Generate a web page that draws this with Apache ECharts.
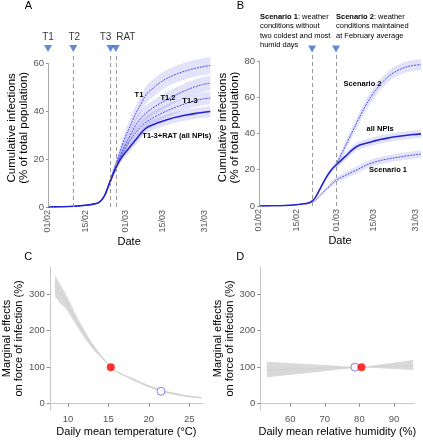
<!DOCTYPE html>
<html><head><meta charset="utf-8">
<script src="https://cdn.jsdelivr.net/npm/echarts@6/dist/echarts.min.js"></script>
<style>html,body{margin:0;padding:0;background:#fff}#c{width:423px;height:440px}</style>
</head><body><div id="c"></div>
<script>
// ---------- DATA ----------
const dateTickDays = [0, 14, 29, 43, 59];
const dateTickLabels = ['01/02', '15/02', '01/03', '15/03', '31/03'];
const days = [0,5,10,14,17,19,21,23,25,27,29,31,33,35,37,40,43,46,49,52,55,58,61];
const allNPIs = [0,0.1,0.3,0.7,1.2,1.8,4.2,9.5,15,19.5,22.6,25.3,28,30.8,33,34.5,35.7,36.8,37.6,38.3,38.9,39.4,39.8];
const t1      = [0,0.1,0.3,0.7,1.2,1.8,4.3,10,16.2,22.8,29,34,39,43,47,50,52.5,54.3,55.7,56.8,57.7,58.4,59];
const t12     = [0,0.1,0.3,0.7,1.2,1.8,4.2,9.8,15.6,21,25.8,30,34.2,37.2,39.3,41.7,43.7,45.5,47.2,48.7,50,51,51.6];
const t13     = [0,0.1,0.3,0.7,1.2,1.8,4.2,9.6,15.3,20.3,24.5,28,31,33.6,35.5,37.5,39.2,40.7,42,43.2,44.2,45,45.4];
const scen1   = [0,0.1,0.3,0.7,1.2,1.8,2.8,5.8,8.8,11.5,14.2,15.8,17.2,18.7,20,22.3,24,25.2,26.1,26.8,27.5,28.1,28.7];
const scen2   = [0,0.1,0.3,0.7,1.2,1.8,4.2,9.5,15,19.5,22.6,28.5,34.5,40.5,46.5,55,62,67.5,71.8,74.6,76.5,77.5,78];
// half-widths of uncertainty bands
const wT1  = [0,0,0,0,0.1,0.2,0.5,1,1.6,2.2,2.7,3,3.3,3.5,3.6,3.6,3.6,3.5,3.5,3.5,3.5,3.5,3.5];
const wT12 = [0,0,0,0,0.1,0.2,0.5,1,1.5,2,2.4,2.7,2.9,3,3.1,3.1,3.1,3.1,3.1,3.1,3.1,3.1,3.1];
const wT13 = [0,0,0,0,0.1,0.2,0.4,0.9,1.4,1.8,2.2,2.4,2.5,2.6,2.6,2.6,2.6,2.6,2.6,2.6,2.6,2.6,2.6];
const wAll = [0,0,0,0,0.1,0.2,0.4,0.8,1.2,1.5,1.8,2,2.1,2.2,2.2,2.2,2.2,2.2,2.2,2.2,2.2,2.2,2.2];
const wS1  = [0,0,0,0,0.1,0.2,0.3,0.6,0.9,1.2,1.5,1.7,1.8,1.9,2,2,2,2,2,2,2.1,2.1,2.1];
const wS2  = [0,0,0,0,0.1,0.2,0.4,0.8,1.2,1.5,1.8,2.1,2.5,2.8,3,3,3,3,3,3,3,3,3];
const interventionNames = ['T1', 'T2', 'T3', 'RAT'];
const interventionDays = [0, 9.5, 23.5, 25.5];
const scenarioDays = [20, 29];

const tempX  = [8.4,9.0,9.7,10.5,11.2,11.8,12.5,13.2,13.8,14.6,15.3,16.0,17.0,17.8,19.0,20.0,21.0,21.6,22.5,23.5,24.5,25.5,26.5];
const tempMid= [323,302,281,250,222,200,175,153,138,117,100,88,77,69,57,48,39.5,35,30,25.5,21.5,18.5,16];
const tempLo = [294,276,261,234,209,188,166,146,133,114,100,86.5,75,66.5,54,45,36.5,32,27,22.8,19,16.3,14];
const tempHi = [352,328,302,266,235,211,184,160,142,120,100,89.5,79,72,60,51,43,38,33,28.3,24,20.8,18.5];
const tempRef = [15.3, 100];
const tempScen = [21.5, 34];

const humX   = [53.2,60,65,70,75,78.7,80.6,85,90,95.6];
const humMid = [93,94.8,96,97.3,98.5,99.5,100,101.2,102.5,104];
const humLo  = [72,79,84,89.2,94.3,98,100,97.7,95,92];
const humHi  = [115,111.3,108.6,105.8,103,101,100,105.9,112.5,120];
const humRef = [80.6, 100];
const humScen = [78.7, 100];

const marginalTicks = [0, 100, 200, 300];
const tempTicks = [10, 15, 20, 25];
const humTicks = [60, 70, 80, 90];

// ---------- BUILD ----------
const FONT = 'Liberation Sans, Arial, sans-serif';
const SM = 0.35;
const BAND = 'rgba(100,100,225,0.19)';
const pts = (xs, ys) => xs.map((x, i) => [x, ys[i]]);
function catmull(P, segs) {
  const out = [];
  for (let i = 0; i < P.length - 1; i++) {
    const p0 = P[Math.max(i - 1, 0)], p1 = P[i], p2 = P[i + 1], p3 = P[Math.min(i + 2, P.length - 1)];
    for (let k = 0; k < segs; k++) {
      const t = k / segs, t2 = t * t, t3 = t2 * t;
      const f = j => 0.5 * (2 * p1[j] + (-p0[j] + p2[j]) * t + (2 * p0[j] - 5 * p1[j] + 4 * p2[j] - p3[j]) * t2 + (-p0[j] + 3 * p1[j] - 3 * p2[j] + p3[j]) * t3);
      out.push([f(0), f(1)]);
    }
  }
  out.push(P[P.length - 1]);
  return out;
}
function band(xs, lo, hi, idx, color) {
  return {type:'custom', xAxisIndex:idx, yAxisIndex:idx, silent:true, z:1, clip:true,
    data:[[xs[0], lo[0]]],
    renderItem:(params, api) => {
      const up = catmull(xs.map((x, i) => api.coord([x, hi[i]])), 10);
      const dn = catmull(xs.map((x, i) => api.coord([x, lo[i]])), 10).reverse();
      return {type:'polygon', shape:{points:up.concat(dn)}, style:{fill:color}};
    }};
}
function vband(xs, v, w, idx) {
  return band(xs, v.map((a, i) => a - w[i]), v.map((a, i) => a + w[i]), idx, BAND);
}
function curve(xs, v, idx, solid, labels) {
  const s = {type:'line', xAxisIndex:idx, yAxisIndex:idx, data:pts(xs, v), symbol:'none', smooth:SM, silent:true,
    lineStyle: solid ? {color:'#2323d2', width:1.6} : {color:'#4d4df0', width:1, type:[2, 1]}, z: solid ? 4 : 3};
  if (labels) {
    s.markPoint = {symbol:'circle', symbolSize:0, silent:true,
      label:{show:true, position:'inside', color:'#000', fontSize:7.5, fontWeight:'bold', fontFamily:FONT, formatter:p => p.name},
      data: labels.map(l => ({name:l[0], coord:[l[1], l[2]]}))};
  }
  return s;
}
const dateFmt = v => { const i = dateTickDays.indexOf(v); return i >= 0 ? dateTickLabels[i] : ''; };
const tickLabel = {fontSize:9.5, color:'#555', fontFamily:FONT};
function dateAxis(idx) {
  return {gridIndex:idx, type:'value', min:0, max:61, splitLine:{show:false},
    axisLine:{show:false}, axisTick:{show:false},
    axisLabel:Object.assign({customValues:dateTickDays, rotate:90, margin:3, formatter:dateFmt}, tickLabel, {fontSize:9}),
    name:'Date', nameLocation:'middle', nameGap:21, nameTextStyle:{fontSize:11, color:'#000', fontFamily:FONT}};
}
function cumAxis(idx, max, ticks) {
  return {gridIndex:idx, type:'value', min:0, max:max, splitLine:{show:false}, axisLine:{show:false},
    axisTick:{show:true, customValues:ticks, length:2, lineStyle:{color:'#999'}},
    axisLabel:Object.assign({customValues:ticks, margin:4}, tickLabel),
    name:'Cumulative infections\n(% of total population)', nameLocation:'middle', nameRotate:90, nameGap:14,
    nameTextStyle:{fontSize:11.5, lineHeight:11.5, color:'#000', fontFamily:FONT}};
}
function margXAxis(idx, min, max, ticks, name) {
  return {gridIndex:idx, type:'value', min:min, max:max, splitLine:{show:false},
    axisLine:{show:true, lineStyle:{color:'#c8c8c8', width:1}},
    axisTick:{show:true, customValues:ticks, length:3, lineStyle:{color:'#888'}},
    axisLabel:Object.assign({customValues:ticks, margin:4}, tickLabel),
    name:name, nameLocation:'middle', nameGap:16, nameTextStyle:{fontSize:11, color:'#000', fontFamily:FONT}};
}
function margYAxis(idx) {
  return {gridIndex:idx, type:'value', min:-17.3, max:374.5, splitLine:{show:false},
    axisLine:{show:true, lineStyle:{color:'#c8c8c8', width:1}},
    axisTick:{show:true, customValues:marginalTicks, length:3, lineStyle:{color:'#888'}},
    axisLabel:Object.assign({customValues:marginalTicks, margin:5}, tickLabel),
    name:'Marginal effects\non force of infection (%)', nameLocation:'middle', nameRotate:90, nameGap:23,
    nameTextStyle:{fontSize:11, lineHeight:12, color:'#000', fontFamily:FONT}};
}
function eventMarks(idx, dayList, names, topVal, lineTop, offsets) {
  return {type:'scatter', xAxisIndex:idx, yAxisIndex:idx, clip:false, silent:true, z:6,
    symbol:'triangle', symbolRotate:180, symbolSize:[8, 7], itemStyle:{color:'#3c6cc6'},
    data: dayList.map((d, i) => ({value:[d, topVal], name: names ? names[i] : '',
      label: names ? {show:true, position:'top', distance:3, offset:offsets[i], formatter:names[i],
        fontSize:10, color:'#000', fontFamily:FONT} : {show:false}})),
    markLine:{symbol:'none', silent:true, label:{show:false},
      data: dayList.filter(d => d > 0).map(d => [{coord:[d, 0], lineStyle:{color:'#9a9a9a', type:[4, 3], width:1}},
                                                 {coord:[d, lineTop]}])}};
}
function axisLineMark(idx, top) {
  return {type:'line', xAxisIndex:idx, yAxisIndex:idx, data:[], silent:true,
    markLine:{symbol:'none', silent:true, label:{show:false}, lineStyle:{color:'#a8a8a8', type:'solid', width:1},
      data:[[{coord:[0, 0]}, {coord:[0, top]}]]}};
}
function point(idx, xy, hollow) {
  return {type:'scatter', xAxisIndex:idx, yAxisIndex:idx, data:[xy], symbol:'circle', symbolSize:8, silent:true, z:8,
    itemStyle: hollow ? {color:'#fff', borderColor:'#6464e6', borderWidth:1} : {color:'#ff0000'}};
}

const s2 = 10; // scenario 2 starts at 01/03
const series = [
  vband(days, t1, wT1, 0), vband(days, t12, wT12, 0), vband(days, t13, wT13, 0), vband(days, allNPIs, wAll, 0),
  curve(days, t1, 0, false, [['T1', 34.2, 46.5]]),
  curve(days, t12, 0, false, [['T1,2', 45.1, 45.6]]),
  curve(days, t13, 0, false, [['T1-3', 53.4, 44.4]]),
  curve(days, allNPIs, 0, true, [['T1-3+RAT (all NPIs)', 48.4, 29.6]]),
  eventMarks(0, interventionDays, interventionNames, 66, 63.3, [[0,0],[1,0],[-5,0],[10,0]]),
  axisLineMark(0, 60),
  vband(days.slice(s2), scen2.slice(s2), wS2.slice(s2), 1), vband(days, scen1, wS1, 1), vband(days, allNPIs, wAll, 1),
  curve(days.slice(s2), scen2.slice(s2), 1, false, [['Scenario 2', 39, 67.1]]),
  curve(days, scen1, 1, false, [['Scenario 1', 48.6, 19.9]]),
  curve(days, allNPIs, 1, true, [['all NPIs', 45.6, 42.5]]),
  eventMarks(1, scenarioDays, null, 86.6, 84.4, null),
  axisLineMark(1, 80),
  band(tempX, tempLo, tempHi, 2, '#d9d9d9'),
  {type:'line', xAxisIndex:2, yAxisIndex:2, data:pts(tempX, tempMid), symbol:'none', smooth:SM, silent:true,
   lineStyle:{color:'#d2d2d2', width:1}, z:2},
  point(2, tempScen, true), point(2, tempRef, false),
  band(humX, humLo, humHi, 3, '#d9d9d9'),
  {type:'line', xAxisIndex:3, yAxisIndex:3, data:pts(humX, humMid), symbol:'none', smooth:SM, silent:true,
   lineStyle:{color:'#d2d2d2', width:1}, z:2},
  point(3, humScen, true), point(3, humRef, false)
];

const letter = (t, x, y) => ({type:'text', silent:true, style:{text:t, x:x, y:y, textAlign:'center', textVerticalAlign:'middle',
  font:'11px ' + FONT, fill:'#000'}});
const note = (t, x, y) => ({type:'text', silent:true, style:{text:t, x:x, y:y, textAlign:'left', textVerticalAlign:'top',
  font:'7.5px ' + FONT, lineHeight:9.3, fill:'#000', rich:{b:{fontWeight:'bold', fontSize:7.5, fontFamily:FONT, lineHeight:9.3}}}});

const option = {
  animation:false,
  backgroundColor:'#fff',
  textStyle:{fontFamily:FONT},
  grid:[
    {left:48, top:48.6, width:162.3, height:158.4},
    {left:259, top:49, width:162, height:157},
    {left:49, top:267, width:154, height:143},
    {left:260.3, top:267, width:154, height:143}
  ],
  xAxis:[dateAxis(0), dateAxis(1),
    margXAxis(2, 7.75, 26.7, tempTicks, 'Daily mean temperature (°C)'),
    margXAxis(3, 51.3, 95.9, humTicks, 'Daily mean relative humidity (%)')],
  yAxis:[cumAxis(0, 66, [0, 20, 40, 60]), cumAxis(1, 86.6, [0, 20, 40, 60, 80]), margYAxis(2), margYAxis(3)],
  series:series,
  graphic:[
    letter('A', 28.3, 6), letter('B', 240.3, 6), letter('C', 28.3, 256.5), letter('D', 240.3, 256.5),
    note('{b|Scenario 1}: weather\nconditions without\ntwo coldest and most\nhumid days', 260, 12.3),
    note('{b|Scenario 2}: weather\nconditions maintained\nat February average', 336, 12.3)
  ]
};
const chart = echarts.init(document.getElementById('c'), null, {renderer:'canvas'});
chart.setOption(option);
</script></body></html>
